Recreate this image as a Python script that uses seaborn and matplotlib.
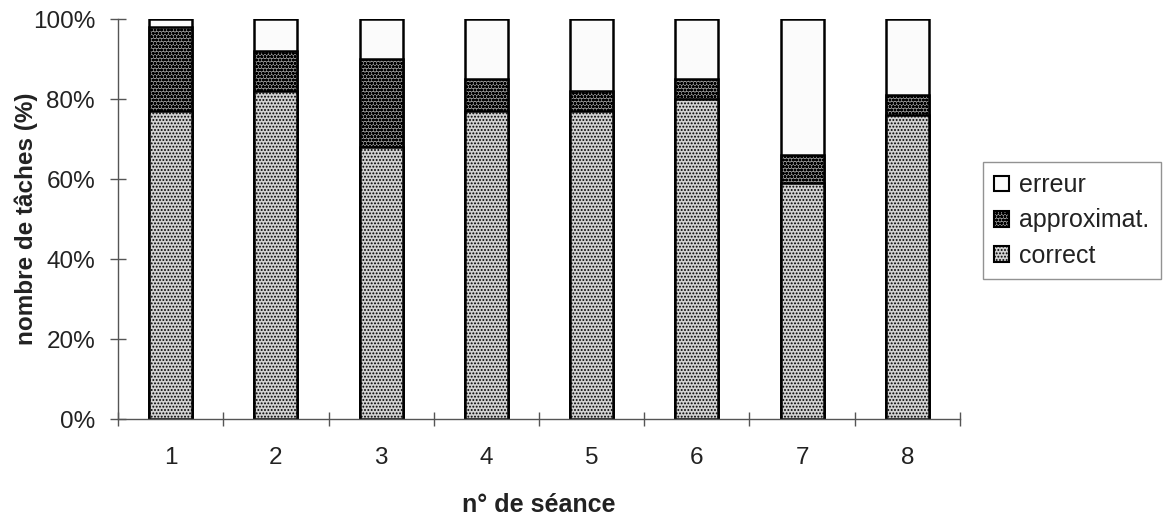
import matplotlib
matplotlib.use("Agg")
import matplotlib.pyplot as plt
import seaborn as sns
import numpy as np
import pandas as pd
from matplotlib.patches import Patch
from matplotlib.ticker import FixedLocator, FuncFormatter

# Share of tasks per session (%), by outcome
seances = ["1", "2", "3", "4", "5", "6", "7", "8"]
correct = [77, 82, 68, 77, 77, 80, 59, 76]
approximat = [21, 10, 22, 8, 5, 5, 7, 5]
erreur = [2, 8, 10, 15, 18, 15, 34, 19]
yticks = [0, 20, 40, 60, 80, 100]

sns.set_theme(style="white")
plt.rcParams["font.family"] = ["Liberation Sans", "DejaVu Sans"]
plt.rcParams["hatch.linewidth"] = 0.9

df = pd.DataFrame({"seance": seances, "correct": correct,
                   "approximat": approximat, "erreur": erreur})
df["top_correct"] = df["correct"]
df["top_approx"] = df["correct"] + df["approximat"]
df["top_erreur"] = df["top_approx"] + df["erreur"]

fig = plt.figure(figsize=(11.71, 5.22), dpi=100)
ax = fig.add_axes([0.1008, 0.1973, 0.7190, 0.7663])

styles = {
    "erreur": dict(color="#fbfbfb", hatch=None),
    "approximat.": dict(color="#949494", hatch="ooooo"),
    "correct": dict(color="#d2d2d2", hatch="....."),
}
layers = [("erreur", "top_erreur"), ("approximat.", "top_approx"), ("correct", "top_correct")]

# stacked bars: draw cumulative tops from the highest layer down
for name, col in layers:
    st = styles[name]
    sns.barplot(data=df, x="seance", y=col, order=seances, ax=ax,
                color=st["color"], saturation=1, width=0.41, errorbar=None,
                edgecolor="black", linewidth=1.8, hatch=st["hatch"])

ax.set_ylim(0, 100)
ax.set_xlim(-0.5, len(seances) - 0.5)
ax.yaxis.set_major_locator(FixedLocator(yticks))
ax.yaxis.set_major_formatter(FuncFormatter(lambda v, p: f"{v:.0f}%"))

# category labels at bar centres, tick marks between categories
ax.set_xticks(range(len(seances)))
ax.set_xticklabels(seances)
ax.set_xticks(np.arange(-0.5, len(seances)), minor=True)
ax.tick_params(axis="x", which="major", length=0, pad=20, labelsize=17.5, colors="#222222")
ax.tick_params(axis="x", which="minor", direction="inout", length=9.5, width=1.0,
               color="#555555", bottom=True)
ax.tick_params(axis="y", direction="inout", length=12, width=1.0, color="#555555",
               pad=10.5, labelsize=17.5, labelcolor="#222222", left=True)

for s in ["top", "right"]:
    ax.spines[s].set_visible(False)
for s in ["left", "bottom"]:
    ax.spines[s].set_color("#555555")
    ax.spines[s].set_linewidth(1.0)

ax.set_xlabel("n° de séance", fontsize=18, fontweight="bold", color="#222222")
ax.set_ylabel("nombre de tâches (%)", fontsize=17.5, fontweight="bold", color="#222222")
ax.xaxis.set_label_coords(0.5, -0.185)
ax.yaxis.set_label_coords(-0.095, 0.5)

handles = [Patch(facecolor=styles[n]["color"], edgecolor="black", hatch=styles[n]["hatch"],
                 linewidth=1.5, label=n) for n, _ in layers]
leg = fig.legend(handles=handles, loc="upper left", bbox_to_anchor=(983 / 1171, 1 - 162 / 522),
                 frameon=True, fancybox=False, fontsize=18, handlelength=0.6,
                 handleheight=0.6, handletextpad=0.4, labelspacing=0.45,
                 borderpad=0.45, borderaxespad=0)
leg.get_frame().set_edgecolor("#777777")
leg.get_frame().set_linewidth(1.0)
for t in leg.get_texts():
    t.set_color("#222222")

fig.savefig("out.png", dpi=100, facecolor="white")
